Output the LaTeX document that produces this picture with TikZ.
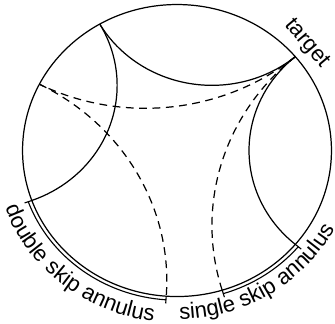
\documentclass[tikz,border=0pt]{standalone}
\usepackage{fontspec}
\setmainfont{Liberation Sans}
\usetikzlibrary{decorations.text}

% geodesic of the disk between two boundary angles (#2 < #3)
\newcommand{\geodesic}[3][]{%
  \pgfmathsetmacro\gmid{(#2+#3)/2}%
  \pgfmathsetmacro\ghalf{(#3-#2)/2}%
  \pgfmathsetmacro\grad{tan(\ghalf)}%
  \draw[#1] (#2:1) arc[start angle=\gmid+270-\ghalf, end angle=\gmid+90+\ghalf, radius=\grad];
}

\begin{document}
\begin{tikzpicture}[x=69.5pt, y=65.7pt, line width=0.55pt,
    geo/.style={draw=black},
    dashgeo/.style={draw=black, dash pattern=on 3.5pt off 2.5pt},
    skiparc/.style={line width=0.5pt},
    lbl/.style={font=\fontsize{10}{12}\selectfont}
  ]
  \useasboundingbox (-1.146,-1.182) rectangle (1.023,1.031);

  \draw (0,0) circle[radius=1];
  \coordinate (target) at (40:1);

  % solid geodesics
  \geodesic[geo]{40}{120}
  \geodesic[geo]{120}{200}
  \geodesic[geo]{-40}{40}

  % dashed geodesics
  \geodesic[dashgeo]{40}{153}
  \geodesic[dashgeo]{153}{266}
  \geodesic[dashgeo]{-73}{40}

  % skip annuli
  \draw[skiparc] (200:1) -- (200:1.05) (200:1.025)
    arc[start angle=200, end angle=266, radius=1.025] (266:1) -- (266:1.05);
  \draw[skiparc] (287:1) -- (287:1.05) (287:1.025)
    arc[start angle=287, end angle=320, radius=1.025] (320:1) -- (320:1.05);

  \path[lbl, decorate, decoration={text along path, text={double skip annulus}, text align=center}]
    (198:1.18) arc[start angle=198, end angle=264, radius=1.18];
  \path[lbl, decorate, decoration={text along path, text={single skip annulus}, text align=center}]
    (271:1.155) arc[start angle=271, end angle=332, radius=1.155];

  \node[lbl, rotate=-50] (targetlbl) at (41:1.115) {target};
\end{tikzpicture}
\end{document}
